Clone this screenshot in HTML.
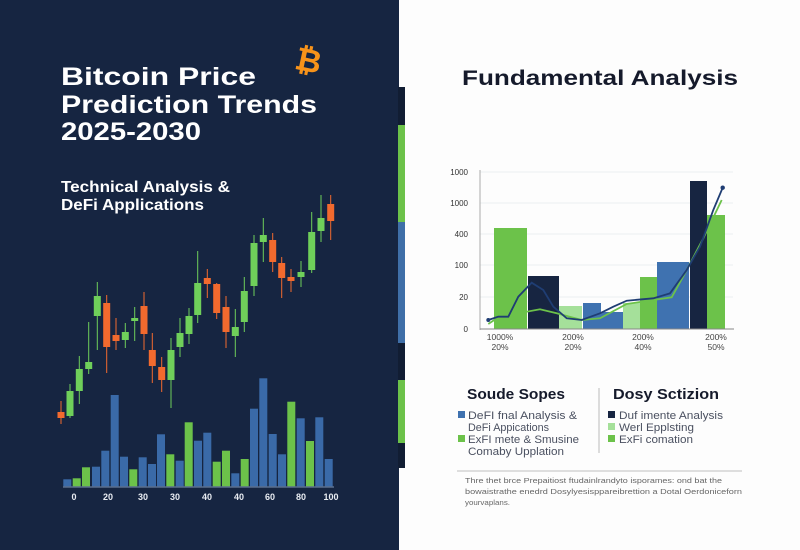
<!DOCTYPE html>
<html><head><meta charset="utf-8"><style>
html,body{margin:0;padding:0;background:#fff;}
svg{display:block;font-family:"Liberation Sans",sans-serif;}
</style></head><body>
<svg width="800" height="550" viewBox="0 0 800 550" xmlns="http://www.w3.org/2000/svg">
<rect x="0" y="0" width="800" height="550" fill="#fdfdfd"/>
<rect x="0" y="0" width="399" height="550" fill="#162541"/>
<rect x="398" y="87" width="7" height="381" fill="#111d33"/>
<rect x="398" y="125" width="7" height="97" fill="#6cc24a"/>
<rect x="398" y="222" width="7" height="121" fill="#3f6fa8"/>
<rect x="398" y="380" width="7" height="63" fill="#6cc24a"/>

<!-- Title -->
<g fill="#fff" font-weight="bold">
<text x="61" y="85" font-size="25" textLength="195" lengthAdjust="spacingAndGlyphs">Bitcoin Price</text>
<text x="61" y="113" font-size="25" textLength="256" lengthAdjust="spacingAndGlyphs">Prediction Trends</text>
<text x="61" y="140" font-size="25" textLength="140" lengthAdjust="spacingAndGlyphs">2025-2030</text>
<text x="61" y="192" font-size="15.5" textLength="169" lengthAdjust="spacingAndGlyphs">Technical Analysis &amp;</text>
<text x="61" y="210" font-size="15.5" textLength="143" lengthAdjust="spacingAndGlyphs">DeFi Applications</text>
</g>
<g transform="translate(308,63) rotate(12)">
<text x="0" y="0" font-size="32" font-weight="bold" fill="#f7931a" text-anchor="middle" dominant-baseline="middle">₿</text>
</g>

<!-- Candles -->
<g>
<line x1="61" y1="401" x2="61" y2="424" stroke="#f26a2e"/><rect x="57.5" y="412" width="7" height="6" fill="#f26a2e"/>
<line x1="70" y1="384" x2="70" y2="418" stroke="#6fcf5a"/><rect x="66.5" y="391" width="7" height="25" fill="#6fcf5a"/>
<line x1="79.3" y1="356" x2="79.3" y2="404" stroke="#6fcf5a"/><rect x="75.8" y="369" width="7" height="22" fill="#6fcf5a"/>
<line x1="88.7" y1="322" x2="88.7" y2="374" stroke="#6fcf5a"/><rect x="85.2" y="362" width="7" height="7" fill="#6fcf5a"/>
<line x1="97.3" y1="282" x2="97.3" y2="350" stroke="#6fcf5a"/><rect x="93.8" y="296" width="7" height="20" fill="#6fcf5a"/>
<line x1="106.7" y1="295" x2="106.7" y2="373" stroke="#f26a2e"/><rect x="103.2" y="303" width="7" height="44" fill="#f26a2e"/>
<line x1="116" y1="318" x2="116" y2="350" stroke="#f26a2e"/><rect x="112.5" y="335" width="7" height="6" fill="#f26a2e"/>
<line x1="125.3" y1="323" x2="125.3" y2="348" stroke="#6fcf5a"/><rect x="121.8" y="332" width="7" height="8" fill="#6fcf5a"/>
<line x1="134.7" y1="307" x2="134.7" y2="341" stroke="#6fcf5a"/><rect x="131.2" y="318" width="7" height="3" fill="#6fcf5a"/>
<line x1="144" y1="292" x2="144" y2="350" stroke="#f26a2e"/><rect x="140.5" y="306" width="7" height="28" fill="#f26a2e"/>
<line x1="152.3" y1="333" x2="152.3" y2="383" stroke="#f26a2e"/><rect x="148.8" y="350" width="7" height="16" fill="#f26a2e"/>
<line x1="161.7" y1="357" x2="161.7" y2="392" stroke="#f26a2e"/><rect x="158.2" y="367" width="7" height="13" fill="#f26a2e"/>
<line x1="171" y1="338" x2="171" y2="408" stroke="#6fcf5a"/><rect x="167.5" y="350" width="7" height="30" fill="#6fcf5a"/>
<line x1="180" y1="318" x2="180" y2="357" stroke="#6fcf5a"/><rect x="176.5" y="333" width="7" height="14" fill="#6fcf5a"/>
<line x1="189" y1="308" x2="189" y2="344" stroke="#6fcf5a"/><rect x="185.5" y="316" width="7" height="18" fill="#6fcf5a"/>
<line x1="197.7" y1="251" x2="197.7" y2="323" stroke="#6fcf5a"/><rect x="194.2" y="283" width="7" height="32" fill="#6fcf5a"/>
<line x1="207.3" y1="269" x2="207.3" y2="298" stroke="#f26a2e"/><rect x="203.8" y="278" width="7" height="6" fill="#f26a2e"/>
<line x1="216.7" y1="283" x2="216.7" y2="319" stroke="#f26a2e"/><rect x="213.2" y="284" width="7" height="29" fill="#f26a2e"/>
<line x1="226" y1="296" x2="226" y2="348" stroke="#f26a2e"/><rect x="222.5" y="307" width="7" height="25" fill="#f26a2e"/>
<line x1="235.3" y1="309" x2="235.3" y2="357" stroke="#6fcf5a"/><rect x="231.8" y="327" width="7" height="9" fill="#6fcf5a"/>
<line x1="244.3" y1="277" x2="244.3" y2="332" stroke="#6fcf5a"/><rect x="240.8" y="291" width="7" height="31" fill="#6fcf5a"/>
<line x1="254" y1="235" x2="254" y2="296" stroke="#6fcf5a"/><rect x="250.5" y="243" width="7" height="43" fill="#6fcf5a"/>
<line x1="263.3" y1="218" x2="263.3" y2="262" stroke="#6fcf5a"/><rect x="259.8" y="235" width="7" height="7" fill="#6fcf5a"/>
<line x1="272.7" y1="233" x2="272.7" y2="272" stroke="#f26a2e"/><rect x="269.2" y="240" width="7" height="22" fill="#f26a2e"/>
<line x1="281.7" y1="257" x2="281.7" y2="298" stroke="#f26a2e"/><rect x="278.2" y="263" width="7" height="15" fill="#f26a2e"/>
<line x1="291" y1="269" x2="291" y2="292" stroke="#f26a2e"/><rect x="287.5" y="277" width="7" height="4" fill="#f26a2e"/>
<line x1="301" y1="261" x2="301" y2="287" stroke="#6fcf5a"/><rect x="297.5" y="272" width="7" height="5" fill="#6fcf5a"/>
<line x1="311.7" y1="212" x2="311.7" y2="273" stroke="#6fcf5a"/><rect x="308.2" y="232" width="7" height="38" fill="#6fcf5a"/>
<line x1="321" y1="195" x2="321" y2="242" stroke="#6fcf5a"/><rect x="317.5" y="218" width="7" height="13" fill="#6fcf5a"/>
<line x1="330.7" y1="195" x2="330.7" y2="240" stroke="#f26a2e"/><rect x="327.2" y="204" width="7" height="17" fill="#f26a2e"/>
</g>

<!-- Volume -->
<g>
<rect x="63.3" y="479.3" width="8" height="7.7" fill="#3a6aa8"/>
<rect x="72.7" y="478.3" width="8" height="8.7" fill="#6cc24a"/>
<rect x="82" y="467.3" width="8" height="19.7" fill="#6cc24a"/>
<rect x="92" y="466.7" width="8" height="20.3" fill="#3a6aa8"/>
<rect x="101.3" y="450.7" width="8" height="36.3" fill="#3a6aa8"/>
<rect x="110.7" y="395" width="8" height="92" fill="#3a6aa8"/>
<rect x="120" y="456.7" width="8" height="30.3" fill="#3a6aa8"/>
<rect x="129.3" y="469.3" width="8" height="17.7" fill="#6cc24a"/>
<rect x="138.7" y="457.3" width="8" height="29.7" fill="#3a6aa8"/>
<rect x="148" y="464" width="8" height="23" fill="#3a6aa8"/>
<rect x="157" y="434.3" width="8" height="52.7" fill="#3a6aa8"/>
<rect x="166.3" y="454.3" width="8" height="32.7" fill="#6cc24a"/>
<rect x="175.7" y="460.7" width="8" height="26.3" fill="#3a6aa8"/>
<rect x="184.7" y="422.3" width="8" height="64.7" fill="#6cc24a"/>
<rect x="194" y="440.7" width="8" height="46.3" fill="#3a6aa8"/>
<rect x="203.3" y="432.7" width="8" height="54.3" fill="#3a6aa8"/>
<rect x="212.7" y="461.7" width="8" height="25.3" fill="#6cc24a"/>
<rect x="222" y="450.7" width="8" height="36.3" fill="#6cc24a"/>
<rect x="231.3" y="473.3" width="8" height="13.7" fill="#3a6aa8"/>
<rect x="240.7" y="459" width="8" height="28" fill="#6cc24a"/>
<rect x="250" y="408.7" width="8" height="78.3" fill="#3a6aa8"/>
<rect x="259.3" y="378.3" width="8" height="108.7" fill="#3a6aa8"/>
<rect x="268.7" y="434" width="8" height="53" fill="#3a6aa8"/>
<rect x="278" y="454.3" width="8" height="32.7" fill="#3a6aa8"/>
<rect x="287.3" y="401.7" width="8" height="85.3" fill="#6cc24a"/>
<rect x="296.7" y="418.3" width="8" height="68.7" fill="#3a6aa8"/>
<rect x="306" y="441" width="8" height="46" fill="#6cc24a"/>
<rect x="315.3" y="417.3" width="8" height="69.7" fill="#3a6aa8"/>
<rect x="324.7" y="459" width="8" height="28" fill="#3a6aa8"/>
</g>
<line x1="63" y1="487" x2="334" y2="487" stroke="#5a6e8e" stroke-width="1.5"/>
<g fill="#e8ecf2" font-size="9" font-weight="bold" text-anchor="middle">
<text x="74" y="500">0</text><text x="108" y="500">20</text><text x="143" y="500">30</text><text x="175" y="500">30</text><text x="207" y="500">40</text><text x="239" y="500">40</text><text x="270" y="500">60</text><text x="301" y="500">80</text><text x="331" y="500">100</text>
</g>

<!-- Right -->
<text x="462" y="85" font-size="21" font-weight="bold" fill="#151a2b" textLength="276" lengthAdjust="spacingAndGlyphs">Fundamental Analysis</text>

<g stroke="#eceef1" stroke-width="1">
<line x1="480" y1="172" x2="733" y2="172"/><line x1="480" y1="203" x2="733" y2="203"/><line x1="480" y1="234" x2="733" y2="234"/><line x1="480" y1="265" x2="733" y2="265"/><line x1="480" y1="297" x2="733" y2="297"/>
</g>
<g font-size="8" fill="#333" text-anchor="end">
<text x="468" y="175">1000</text><text x="468" y="206">1000</text><text x="468" y="237">400</text><text x="468" y="268">100</text><text x="468" y="300">20</text><text x="468" y="332">0</text>
</g>
<line x1="480" y1="170" x2="480" y2="330" stroke="#aaa"/>
<rect x="494" y="228" width="33" height="101" fill="#6cc24a"/>
<rect x="528" y="276" width="31" height="53" fill="#172541"/>
<rect x="559" y="306" width="23" height="23" fill="#a5e09a"/>
<rect x="583" y="303" width="18" height="26" fill="#3f72b0"/>
<rect x="601" y="312" width="22" height="17" fill="#3f72b0"/>
<rect x="623" y="303" width="17" height="26" fill="#a5e09a"/>
<rect x="640" y="277" width="17" height="52" fill="#6cc24a"/>
<rect x="657" y="262" width="32" height="67" fill="#3f72b0"/>
<rect x="690" y="181" width="17" height="148" fill="#172541"/>
<rect x="707" y="215" width="18" height="114" fill="#6cc24a"/>
<line x1="480" y1="329" x2="734" y2="329" stroke="#888" stroke-width="1"/>
<polyline fill="none" stroke="#6cc24a" stroke-width="1.8" points="488.3,324 498.3,317.3 508.3,316.7 518.3,303.3 526.7,311.7 540,309.3 556.7,313.3 581.7,320 600,318.3 626.7,304 653.3,300 671.7,297.3 686.7,270 703.3,238.3 721.7,200"/>
<polyline fill="none" stroke="#1f3d73" stroke-width="1.8" points="488.3,320 498.3,316.7 508.3,316.7 518.3,296.7 531.7,282.7 543.3,290 553.3,306.7 566.7,318.3 581.7,320 600,313.3 613.3,306.7 626.7,300.7 653.3,298.3 670,293.3 686.7,270 700,246.7 713.3,210 722.7,187.7"/>
<circle cx="488.3" cy="320" r="2" fill="#1f3d73"/><circle cx="722.7" cy="187.7" r="2.2" fill="#1f3d73"/>
<g font-size="8.5" fill="#444" text-anchor="middle">
<text x="500" y="340">1000%</text><text x="500" y="350">20%</text>
<text x="573" y="340">200%</text><text x="573" y="350">20%</text>
<text x="643" y="340">200%</text><text x="643" y="350">40%</text>
<text x="716" y="340">200%</text><text x="716" y="350">50%</text>
</g>

<!-- Legend -->
<text x="467" y="399" font-size="15" font-weight="bold" fill="#151a2b" textLength="98" lengthAdjust="spacingAndGlyphs">Soude Sopes</text>
<text x="613" y="399" font-size="15" font-weight="bold" fill="#151a2b" textLength="106" lengthAdjust="spacingAndGlyphs">Dosy Sctizion</text>
<line x1="599" y1="388" x2="599" y2="453" stroke="#bbb"/>
<g font-size="11" fill="#4a5060">
<rect x="458" y="411" width="7" height="7" fill="#3f72b0"/><text x="468" y="419" textLength="109" lengthAdjust="spacingAndGlyphs">DeFI fnal Analysis &amp;</text>
<text x="468" y="431" textLength="81" lengthAdjust="spacingAndGlyphs">DeFi Appications</text>
<rect x="458" y="435" width="7" height="7" fill="#6cc24a"/><text x="468" y="443" textLength="111" lengthAdjust="spacingAndGlyphs">ExFI mete &amp; Smusine</text>
<text x="468" y="455" textLength="96" lengthAdjust="spacingAndGlyphs">Comaby Upplation</text>
<rect x="608" y="411" width="7" height="7" fill="#172541"/><text x="619" y="419" textLength="104" lengthAdjust="spacingAndGlyphs">Duf imente Analysis</text>
<rect x="608" y="423" width="7" height="7" fill="#a5e09a"/><text x="619" y="431" textLength="75" lengthAdjust="spacingAndGlyphs">Werl Epplsting</text>
<rect x="608" y="435" width="7" height="7" fill="#6cc24a"/><text x="619" y="443" textLength="74" lengthAdjust="spacingAndGlyphs">ExFi comation</text>
</g>
<line x1="457" y1="471" x2="742" y2="471" stroke="#ccc" stroke-width="1.2"/>
<g font-size="7.5" fill="#666">
<text x="465" y="483" textLength="257" lengthAdjust="spacingAndGlyphs">Thre thet brce Prepaitiost ftudainlrandyto isporames: ond bat the</text>
<text x="465" y="494" textLength="277" lengthAdjust="spacingAndGlyphs">bowaistrathe enedrd Dosylyesisppareibrettion a Dotal Oerdoniceforn</text>
<text x="465" y="505" textLength="45" lengthAdjust="spacingAndGlyphs">yourvaplans.</text>
</g>
</svg>
</body></html>
